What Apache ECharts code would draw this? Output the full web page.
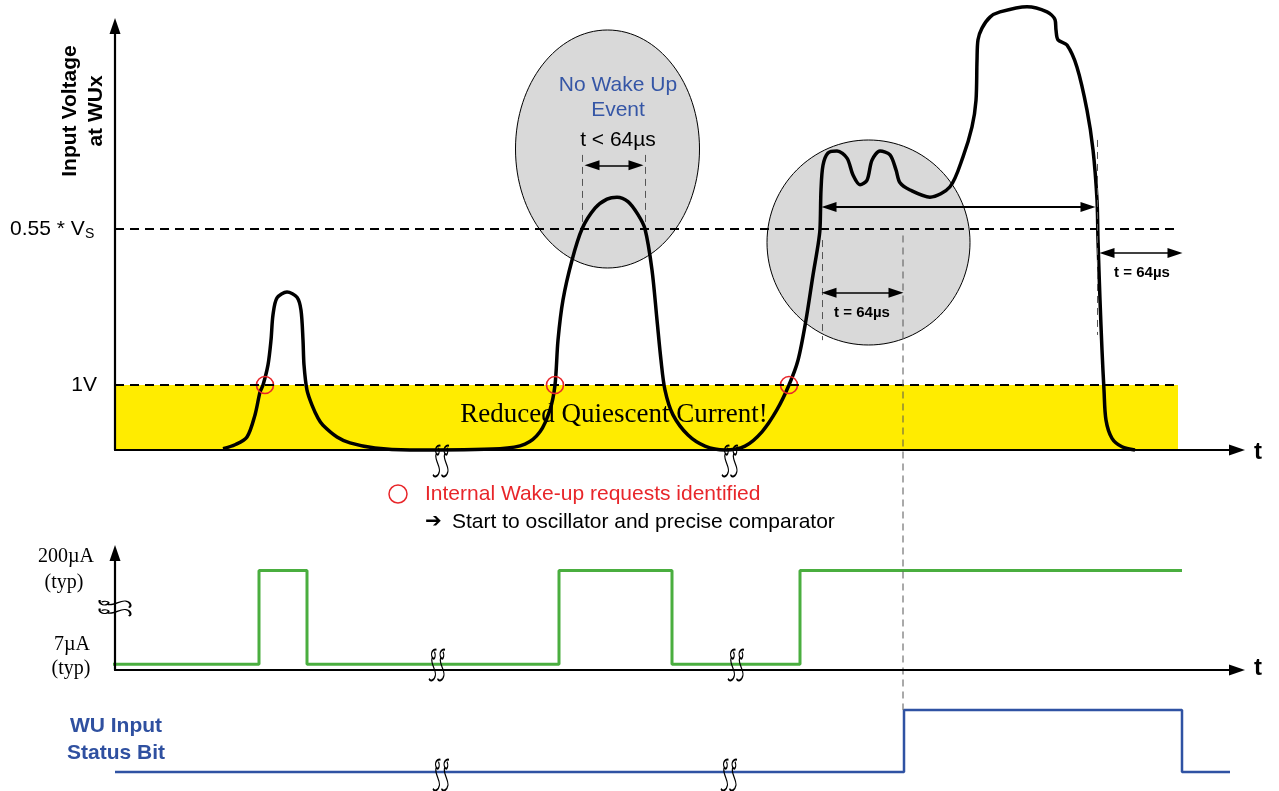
<!DOCTYPE html>
<html><head><meta charset="utf-8">
<script src="https://cdn.jsdelivr.net/npm/echarts@6/dist/echarts.min.js"></script>
<style>html,body{margin:0;padding:0;background:#fff}#c{width:1279px;height:791px}</style>
</head><body><div id="c"></div>
<script>
// ---- data (time in arbitrary units, voltage in units where the 1V level = 1) ----
const voltageT = [108,120,132,140,145,148,153,156,158,162,172,182,186,188,189,192,197,203,208,222,235,260,295,385,410,425,435,440,443,448,457,467,480,492,502,513,523,530,537,542,546,550,558,573,590,610,630,647,662,674,683,691,698,703,705,706,708,713,722,732,738,745,752,757,765,775,781,785,795,815,835,848,857,861,862,863,867,875,885,912,932,940,941,943,952,962,972,978,982,983,985,987,989,991,997,1007,1020];
const voltageV = [0.02,0.08,0.2,0.54,0.89,1.0,1.31,1.69,2.08,2.34,2.43,2.35,2.15,1.69,1.31,0.92,0.69,0.49,0.38,0.2,0.11,0.03,0.0,0.02,0.09,0.28,0.62,1.0,1.69,2.31,2.92,3.4,3.72,3.86,3.89,3.82,3.62,3.4,2.77,2.0,1.38,0.92,0.54,0.23,0.06,0.0,0.06,0.28,0.62,1.0,1.38,2.0,2.69,3.15,3.4,4.0,4.38,4.57,4.6,4.49,4.23,4.08,4.15,4.46,4.6,4.54,4.31,4.11,4.0,3.89,4.05,4.51,4.97,5.38,5.99,6.31,6.49,6.66,6.74,6.82,6.74,6.62,6.46,6.31,6.23,5.89,5.23,4.62,3.85,3.23,2.31,1.54,0.92,0.46,0.18,0.05,0.0];
const level1V = 1.0;          // "1V"
const levelVs = 3.4;          // "0.55 * Vs"
const bandEnd = 1063;
const wakeT = [150, 440, 674];
const currentT = [-7, 144, 192, 444, 557, 685, 1067];
const currentState = [0, 1, 0, 1, 0, 1, 1];
const currentLow = 0.05, currentHigh = 0.85;
const statusT = [0, 789, 1067, 1115];
const statusV = [0, 1, 0, 0];
const breakT0 = [326, 615];    // axis breaks, voltage plot
const breakT1 = [322, 621];    // axis breaks, current plot
const breakT2 = [326, 614];    // axis breaks, status bit
const breakI = 0.53;           // break on the current axis
const win1T = [467, 530];      // "t < 64µs" window
const win2T = [707, 788];      // "t = 64µs" window
const win3T = [982, 1067];     // trailing "t = 64µs"
const labelsV = ['0.55 * V', '1V'];
const labelsI = [['200µA','(typ)'], ['7µA','(typ)']];

const X_MAX = 1122, V_MAX = 6.523;
const chart = echarts.init(document.getElementById('c'));
function ax(i, show, max) {
  return {type:'value', gridIndex:i, min:0, max:max, show:show, z:10,
    axisLine:{show:true, onZero:false, symbol:['none','triangle'], symbolSize:[11,16], lineStyle:{color:'#000', width:2.2}},
    axisTick:{show:false}, axisLabel:{show:false}, splitLine:{show:false}};
}
function arrowLine(t1, t2, v, w) {
  return [{coord:[t1+7, v], symbol:'triangle', symbolSize:[10,15], lineStyle:{color:'#000', width:w, type:'solid'}},
          {coord:[t2-7, v], symbol:'triangle', symbolSize:[10,15]}];
}
function dashV(t, v1, v2) {
  return [{coord:[t, v1], symbol:'none', lineStyle:{color:'#555', width:1, type:[7,5]}}, {coord:[t, v2], symbol:'none'}];
}
// break glyph: two script-l shaped strokes
const glyph = (dx) => `M${dx+3} 0 C${dx} -1 ${dx-3} 3 ${dx-1} 7 C${dx+1} 11 ${dx+3} 5 ${dx+1} 2 ` +
  `M${dx-1} 7 C${dx-3} 13 ${dx+3} 19 ${dx+2} 24 C${dx+1} 29 ${dx-3} 30 ${dx-4} 27`;
const BRK_SYM = 'path://' + glyph(4) + ' ' + glyph(12);
function brkSeries(g, pts, off, rot) {
  return {type:'scatter', xAxisIndex:g, yAxisIndex:g, z:6, silent:true, clip:false,
    data:pts, symbol:BRK_SYM, symbolSize:[16,31], symbolOffset:off, symbolRotate:rot||0,
    itemStyle:{color:'rgba(0,0,0,0)', borderColor:'#000', borderWidth:1.5, opacity:1}};
}
chart.setOption({
  animation:false,
  backgroundColor:'#fff',
  grid:[{left:115, top:26, width:X_MAX, height:424},
        {left:115, top:553, width:X_MAX, height:117},
        {left:115, top:710, width:X_MAX, height:62}],
  xAxis:[ax(0,true,X_MAX), ax(1,true,X_MAX), ax(2,false,X_MAX)],
  yAxis:[ax(0,true,V_MAX), ax(1,true,1), ax(2,false,1)],
  series:[
    {type:'line', xAxisIndex:0, yAxisIndex:0, data:[], z:1, silent:true,
     markArea:{silent:true, itemStyle:{color:'#ffec00'}, data:[[{coord:[0,0]},{coord:[bandEnd,level1V]}]]}},
    {type:'line', xAxisIndex:0, yAxisIndex:0, data:[], z:2, silent:true,
     markLine:{silent:true, symbol:'none', label:{show:false}, animation:false,
       lineStyle:{color:'#000', width:2, type:[9,6]},
       data:[[{coord:[0,level1V]},{coord:[bandEnd,level1V]}],[{coord:[0,levelVs]},{coord:[bandEnd,levelVs]}]]}},
    {type:'line', xAxisIndex:0, yAxisIndex:0, z:3, clip:false, silent:true,
     data:voltageT.map((t,i)=>[t, voltageV[i]]), symbol:'none', smooth:0.3,
     lineStyle:{color:'#000', width:3.5}},
    {type:'scatter', xAxisIndex:0, yAxisIndex:0, z:4, silent:true,
     data:wakeT.map(t=>[t, level1V]), symbol:'circle', symbolSize:17,
     itemStyle:{color:'rgba(0,0,0,0)', borderColor:'#e8262a', borderWidth:1.6, opacity:1}},
    {type:'line', xAxisIndex:0, yAxisIndex:0, data:[], z:4, silent:true,
     markLine:{silent:true, label:{show:false}, animation:false,
       data:[
         dashV(win1T[0], 4.54, 3.45), dashV(win1T[1], 4.54, 3.45),
         dashV(win2T[0], 3.23, 1.69), dashV(win3T[0], 4.77, 1.77),
         arrowLine(win1T[0]+3, win1T[1]-2, 4.38, 1.5),
         arrowLine(win2T[0], win3T[0]-2, 3.74, 2),
         arrowLine(win2T[0], win2T[1], 2.42, 1.5),
         arrowLine(win3T[0]+3, win3T[1], 3.03, 1.5)
       ]}},
    {type:'line', xAxisIndex:1, yAxisIndex:1, z:3, clip:false, silent:true, step:'end',
     data:currentT.map((t,i)=>[t, currentState[i] ? currentHigh : currentLow]), symbol:'none',
     lineStyle:{color:'#4aae3f', width:3}},
    {type:'line', xAxisIndex:2, yAxisIndex:2, z:3, clip:false, silent:true, step:'end',
     data:statusT.map((t,i)=>[t, statusV[i]]), symbol:'none',
     lineStyle:{color:'#2f52a3', width:2.5}},
    brkSeries(0, breakT0.map(t=>[t,0]), [0, 11]),
    brkSeries(1, breakT1.map(t=>[t,0]), [0, -5]),
    brkSeries(2, breakT2.map(t=>[t,0]), [0, 3]),
    brkSeries(1, [[0, breakI]], [0, 0], 90)
  ]
});

const P = (g, t, v) => chart.convertToPixel({gridIndex:g}, [t, v]);
const els = [];
function txt(x, y, s, font, fill, align, rot) {
  els.push({type:'text', x:x, y:y, rotation:rot||0, z:20, style:{text:s, font:font, fill:fill||'#000', align:align||'center', verticalAlign:'middle'}});
}
const SANS = '"Liberation Sans", Arial, sans-serif', SERIF = '"Liberation Serif", "Times New Roman", serif';
// ellipses
let c1 = P(0, 492.5, (450-149)/65), c2 = P(0, 753.5, (450-242.5)/65);
els.push({type:'ellipse', z:0, shape:{cx:c1[0], cy:c1[1], rx:92, ry:119}, style:{fill:'#d9d9d9', stroke:'#000', lineWidth:1}});
els.push({type:'ellipse', z:0, shape:{cx:c2[0], cy:c2[1], rx:101.5, ry:102.5}, style:{fill:'#d9d9d9', stroke:'#000', lineWidth:1}});
// long dashed line to status bit
let d1 = P(0, win2T[1], 3.3), d2 = P(2, win2T[1], 1);
els.push({type:'line', z:5, shape:{x1:d1[0], y1:d1[1], x2:d2[0], y2:d2[1]}, style:{stroke:'#555', lineWidth:1, lineDash:[7,5]}});
// texts in plot
let p;
p = P(0, 503, (450-85)/65); txt(p[0], p[1], 'No Wake Up', '21px '+SANS, '#3556a6');
p = P(0, 503, (450-110)/65); txt(p[0], p[1], 'Event', '21px '+SANS, '#3556a6');
p = P(0, 503, (450-140)/65); txt(p[0], p[1], 't < 64µs', '21px '+SANS, '#000');
p = P(0, 747, (450-313)/65); txt(p[0], p[1], 't = 64µs', 'bold 15px '+SANS, '#000');
p = P(0, 1027, (450-273)/65); txt(p[0], p[1], 't = 64µs', 'bold 15px '+SANS, '#000');
p = P(0, 499, (450-415)/65); txt(p[0], p[1], 'Reduced Quiescent Current!', '27px '+SERIF, '#000');
// axis labels
txt(70, 111, 'Input Voltage', 'bold 21px '+SANS, '#000', 'center', Math.PI/2);
txt(96, 111, 'at WUx', 'bold 21px '+SANS, '#000', 'center', Math.PI/2);
p = P(0, 0, levelVs); txt(10, p[1], labelsV[0], '21px '+SANS, '#000', 'left');
txt(85, p[1]+5, 'S', '14px '+SANS, '#000', 'left');
p = P(0, 0, level1V); txt(97, p[1], labelsV[1], '21px '+SANS, '#000', 'right');
txt(1258, 452, 't', 'bold 24px '+SANS); txt(1258, 668, 't', 'bold 24px '+SANS);
txt(66, 557, labelsI[0][0], '20px '+SERIF); txt(64, 583, labelsI[0][1], '20px '+SERIF);
txt(72, 645, labelsI[1][0], '20px '+SERIF); txt(71, 669, labelsI[1][1], '20px '+SERIF);
txt(116, 726, 'WU Input', 'bold 21px '+SANS, '#2f50a0'); txt(116, 753, 'Status Bit', 'bold 21px '+SANS, '#2f50a0');
// legend
els.push({type:'circle', z:20, shape:{cx:398, cy:494, r:9}, style:{fill:'none', stroke:'#e8262a', lineWidth:1.5}});
txt(425, 494, 'Internal Wake-up requests identified', '21px '+SANS, '#e8262a', 'left');
txt(425, 522, '➔', '20px "DejaVu Sans"', '#000', 'left');
txt(452, 522, 'Start to oscillator and precise comparator', '21px '+SANS, '#000', 'left');
chart.setOption({graphic:{elements:els}});
</script></body></html>
